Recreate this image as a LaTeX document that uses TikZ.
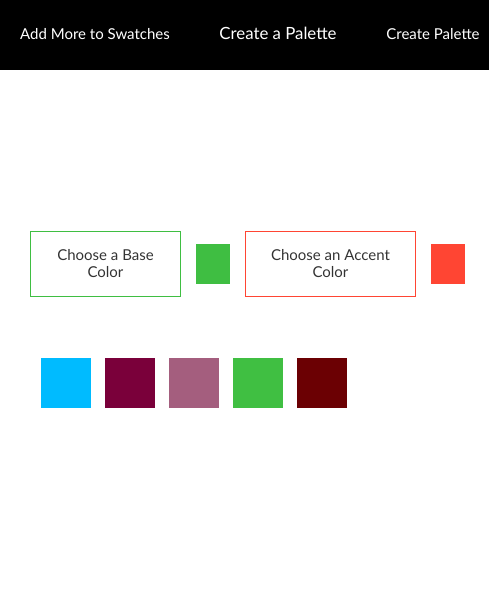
\documentclass[tikz,border=0pt]{standalone}
\usepackage{fontspec}
\setmainfont{Lato}
\usepackage{xcolor}
\usetikzlibrary{positioning,calc}

\definecolor{baseGreen}{HTML}{3FBE42}
\definecolor{accentRed}{HTML}{FF4533}
\definecolor{swCyan}{HTML}{00BBFF}
\definecolor{swPlum}{HTML}{7A003A}
\definecolor{swMauve}{HTML}{A45E7E}
\definecolor{swGreen}{HTML}{40BF42}
\definecolor{swDark}{HTML}{6B0003}

\tikzset{
  navlink/.style={text=white, font=\fontsize{15}{17}\selectfont, inner sep=0pt},
  chooser/.style={draw=#1, line width=1pt, minimum width=150pt, minimum height=65pt,
    align=center, text=black!80, font=\fontsize{15}{17}\selectfont, inner sep=0pt},
  swatch/.style={fill=#1, minimum size=50pt, inner sep=0pt},
  chip/.style={fill=#1, minimum width=34pt, minimum height=40pt, inner sep=0pt}
}

\begin{document}
\begin{tikzpicture}[x=1pt,y=-1pt]
        \useasboundingbox (0,0) rectangle (489,605);
        \fill[black] (0,0) rectangle (489,70);
        \node[navlink] (addmore) at (95,34) {Add More to Swatches};
        \node[navlink, font=\fontsize{16.8}{19}\selectfont] (createa) at (278,33) {Create a Palette};
        \node[navlink] (createp) at (433,34) {Create Palette};
        % base and accent choosers
        \node[chooser=baseGreen, minimum width=150pt] (basebox) at (105.5,263.5) {Choose a Base\\Color};
        \node[chip=baseGreen] (basechip) at (213,264) {};
        \node[chooser=accentRed, minimum width=170pt] (accentbox) at (330.5,263.5) {Choose an Accent\\Color};
        \node[chip=accentRed] (accentchip) at (448,264) {};
        % swatches
        \node[swatch=swCyan] (sw1) at (66,383) {};
        \node[swatch=swPlum] (sw2) at (130,383) {};
        \node[swatch=swMauve] (sw3) at (194,383) {};
        \node[swatch=swGreen] (sw4) at (258,383) {};
        \node[swatch=swDark] (sw5) at (322,383) {};
    \end{tikzpicture}
\end{document}
